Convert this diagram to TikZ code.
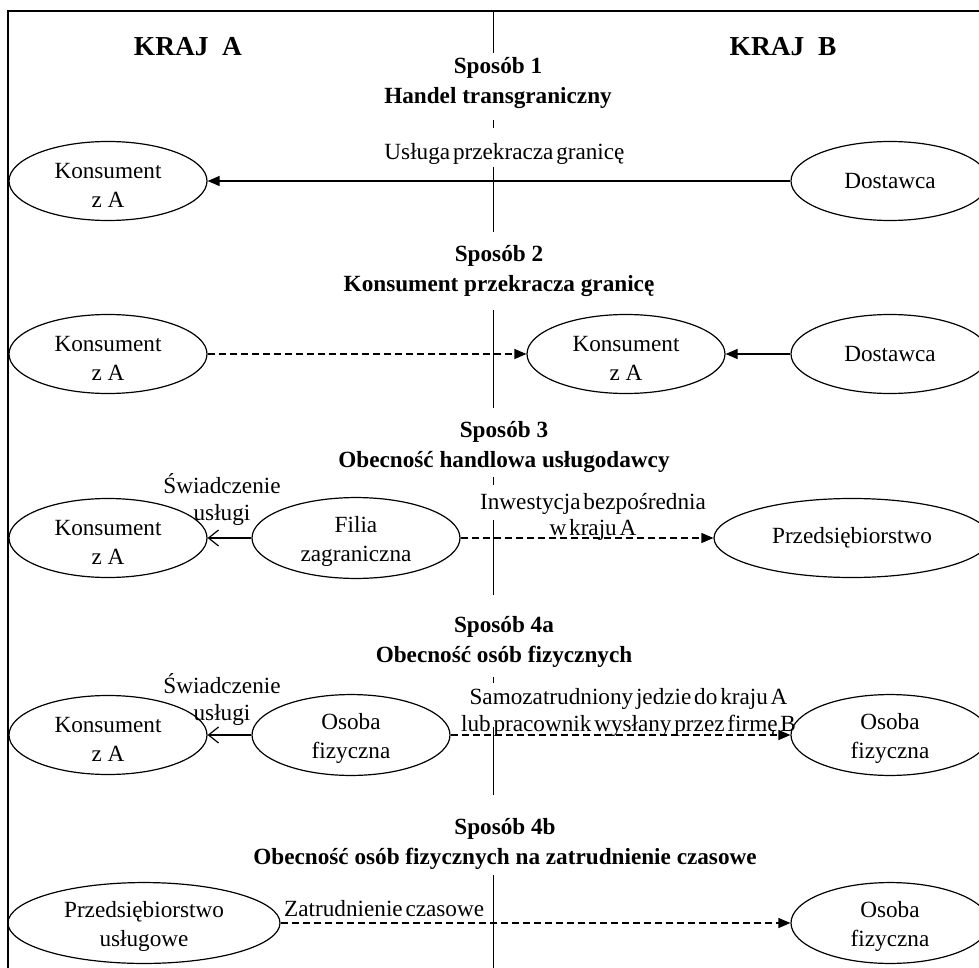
\documentclass[tikz,border=0pt]{standalone}
\usepackage{fontspec}
\setmainfont{Liberation Serif}
\usetikzlibrary{arrows.meta,shapes.geometric}
\newcommand{\tp}{\rule{0pt}{11.6pt}}
\newcommand{\tightsp}{\spaceskip=1.4pt plus 0.5pt\relax}
\tikzset{
  ov/.style={ellipse,draw,line width=0.6pt,minimum width=#1,minimum height=39.5pt,
    inner sep=0pt,align=center,font=\fontsize{11.6}{14.5}\selectfont},
  ov/.default=99pt,
  hd/.style={align=center,inner sep=0pt,font=\fontsize{11.6}{15}\selectfont\bfseries},
  kr/.style={inner sep=0pt,font=\fontsize{13.7}{16}\selectfont\bfseries},
  lb/.style={align=center,inner sep=0pt,
    font=\fontsize{11.6}{13.2}\selectfont\tightsp},
  arr/.style={-{Triangle[length=6pt,width=5pt]},line width=0.6pt},
  darr/.style={arr,dash pattern=on 3.5pt off 2pt},
  oarr/.style={-{Straight Barb[length=5pt,width=8pt]},line width=0.6pt},
}
\begin{document}
\begin{tikzpicture}[x=0.5pt,y=-0.5pt]
  \useasboundingbox (0,0) rectangle (979,968);
  \clip (0,0) rectangle (979,968);

  % Frame and the border between the two countries
  \draw[line width=0.6pt] (8,968)--(8,11)--(979,11);
  \draw[line width=0.6pt] (493.5,11)--(493.5,53) (493.5,120)--(493.5,128)
    (493.5,167)--(493.5,232) (493.5,310)--(493.5,408) (493.5,477)--(493.5,485)
    (493.5,520)--(493.5,595) (493.5,677)--(493.5,683) (493.5,727)--(493.5,795)
    (493.5,875)--(493.5,968);

  \node[kr] (ka) at (188,47) {KRAJ\ \ A};
  \node[kr] (kb) at (783,47) {KRAJ\ \ B};

  % Sposób 1
  \node[hd] (s1) at (498,83) {Sposób 1\\Handel transgraniczny};
  \node[ov] (k1) at (108,181) {\tp Konsument\\z A};
  \node[ov] (d1) at (890,181) {Dostawca};
  \draw[arr] (d1) -- node[lb,above=8pt,xshift=2.75pt] {Usługa przekracza granicę} (k1);

  % Sposób 2
  \node[hd] (s2) at (499,271) {Sposób 2\\Konsument przekracza granicę};
  \node[ov] (k2) at (108,354) {\tp Konsument\\z A};
  \node[ov] (k2b) at (626,354) {\tp Konsument\\z A};
  \node[ov] (d2) at (890,354) {Dostawca};
  \draw[darr] (k2) -- (k2b);
  \draw[arr] (d2) -- (k2b);

  % Sposób 3
  \node[hd] (s3) at (504,447) {Sposób 3\\Obecność handlowa usługodawcy};
  \node[ov] (k3) at (108,538) {\tp Konsument\\z A};
  \node[ov=104pt] (f3) at (356,538) {\tp Filia\\zagraniczna};
  \node[ov=138pt] (p3) at (852,538) {Przedsiębiorstwo};
  \draw[oarr] (f3) -- node[lb,above=6pt,xshift=-3.75pt] {Świadczenie\\usługi} (k3);
  \draw[darr] (f3) -- node[lb,above=-1.5pt,xshift=3pt] {Inwestycja bezpośrednia\\w kraju A} (p3);

  % Sposób 4a
  \node[hd] (s4a) at (504,642) {Sposób 4a\\Obecność osób fizycznych};
  \node[ov] (k4) at (108,735) {\tp Konsument\\z A};
  \node[ov] (o4) at (351,735) {\tp Osoba\\fizyczna};
  \node[ov] (o4b) at (890,735) {\tp Osoba\\fizyczna};
  \draw[oarr] (o4) -- node[lb,above=4.5pt,xshift=-3.75pt] {Świadczenie\\usługi} (k4);
  \draw[darr] (o4) -- node[lb,above=-1pt,xshift=4pt] {Samozatrudniony jedzie do kraju A\\lub pracownik wysłany przez firmę B} (o4b);

  % Sposób 4b
  \node[hd] (s4b) at (505,844) {Sposób 4b\\Obecność osób fizycznych na zatrudnienie czasowe};
  \node[ov=136pt] (p5) at (144,923) {\tp Przedsiębiorstwo\\usługowe};
  \node[ov] (o5) at (890,923) {\tp Osoba\\fizyczna};
  \draw[darr] (p5) -- node[lb,pos=0,anchor=south west,yshift=3pt,xshift=1.5pt] {Zatrudnienie czasowe} (o5);
\end{tikzpicture}
\end{document}
